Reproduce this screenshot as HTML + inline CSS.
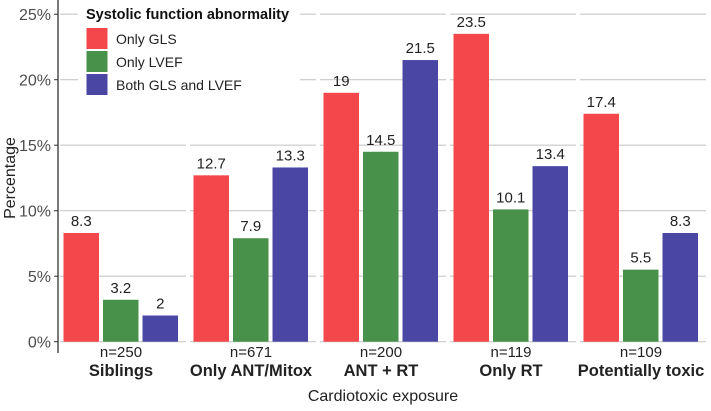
<!DOCTYPE html>
<html><head><meta charset="utf-8"><style>
body{margin:0;background:#fff;}
svg{font-family:"Liberation Sans",Arial,sans-serif;}
</style></head><body>
<svg id="c" width="711" height="406"></svg>
<script>
const categories=["Siblings","Only ANT/Mitox","ANT + RT","Only RT","Potentially toxic"];
const nLabels=["n=250","n=671","n=200","n=119","n=109"];
const onlyGLS=[8.3,12.7,19,23.5,17.4];
const onlyLVEF=[3.2,7.9,14.5,10.1,5.5];
const bothGLSLVEF=[2,13.3,21.5,13.4,8.3];
const yTicks=[0,5,10,15,20,25];
const seriesNames=["Only GLS","Only LVEF","Both GLS and LVEF"];
const colors=["#f4474b","#47914a","#4946a4"];
const series=[onlyGLS,onlyLVEF,bothGLSLVEF];
const NS="http://www.w3.org/2000/svg";
const svg=document.getElementById('c');
function mk(t,a,txt){const e=document.createElementNS(NS,t);for(const k in a)e.setAttribute(k,a[k]);if(txt!==undefined)e.textContent=txt;svg.appendChild(e);return e;}
const y0=341.7,pp=13.1;
const y=v=>y0-v*pp;
const px0=58,pw=130;
const panelX=i=>px0+i*pw;
yTicks.forEach(t=>{
  for(let i=0;i<categories.length;i++){
    const g=mk('line',{x1:panelX(i)+2,x2:panelX(i)+128,y1:y(t),y2:y(t),stroke:'#c8c8c8','stroke-width':1.2});
    
    
  }
  const tk=mk('line',{x1:54,x2:58,y1:y(t),y2:y(t),stroke:'#333','stroke-width':1});
  
  
  const tl=mk('text',{x:51,y:y(t)+6,'text-anchor':'end','font-size':16,fill:'#4d4d4d'},t+'%');
  
  
});
const ax=mk('line',{x1:58,x2:58,y1:0,y2:353,stroke:'#222','stroke-width':1.2});


const bw=35.5,step=39.5;
categories.forEach((c,i)=>{
  series.forEach((s,j)=>{
    const x=panelX(i)+5.5+j*step;
    const r=mk('rect',{x:x,y:y(s[i]),width:bw,height:y0-y(s[i]),fill:colors[j]});
    
    
    const l=mk('text',{x:x+bw/2,y:y(s[i])-7,'text-anchor':'middle','font-size':15,fill:'#222'},String(s[i]));
    
    
  });
  const cx=panelX(i)+63;
  const n=mk('text',{x:cx,y:357,'text-anchor':'middle','font-size':15,fill:'#222'},nLabels[i]);
  
  
  const cl=mk('text',{x:cx,y:376,'text-anchor':'middle','font-size':16.5,'font-weight':'bold',fill:'#222'},c);
  
  
});
const xt=mk('text',{x:383,y:401,'text-anchor':'middle','font-size':16,fill:'#222'},'Cardiotoxic exposure');


const yt=mk('text',{x:0,y:0,'text-anchor':'middle','font-size':16,fill:'#222',transform:'translate(15,178) rotate(-90)'},'Percentage');


const lb=mk('rect',{x:78,y:1,width:222,height:96,fill:'#fff'});


const lt=mk('text',{x:86,y:19,'font-size':14.5,'font-weight':'bold',fill:'#111'},'Systolic function abnormality');


seriesNames.forEach((s,j)=>{
  const k=mk('rect',{x:86.5,y:28+j*23,width:21,height:21,fill:colors[j]});
  
  
  const t=mk('text',{x:116,y:44+j*23,'font-size':14,fill:'#222'},s);
  
  
});
</script>
</body></html>
